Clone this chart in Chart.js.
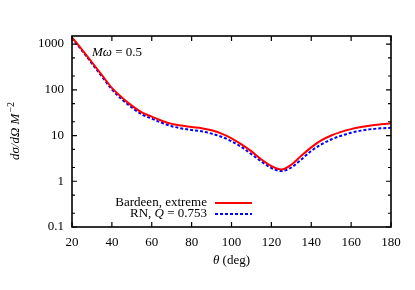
<!DOCTYPE html>
<html><head><meta charset="utf-8">
<script src="https://cdn.jsdelivr.net/npm/chart.js@4/dist/chart.umd.min.js"></script>
<style>html,body{margin:0;padding:0;background:#fff}#wrap{width:415px;height:290px}</style>
</head><body><div id="wrap"><canvas id="c" width="415" height="290"></canvas></div>
<script>
const thetas = [20,25,30,35,40,45,50,55,60,65,70,75,80,85,90,95,100,105,110,115,120,125,130,135,140,145,150,155,160,165,170,175,180];
const bardeen = [1400,760,400,210,110,68,45,32,26,21,18,16.5,15.3,14.5,13,11,8.7,6.4,4.5,3.0,2.15,1.8,2.3,3.6,5.5,7.8,10,12,13.8,15.3,16.6,17.6,18.5];
const rn = [1350,720,375,195,102,62,41,29,23.5,19,16,14.3,13.2,12.4,11,9.4,7.5,5.6,3.9,2.7,1.95,1.67,2.0,3.0,4.6,6.4,8.2,9.9,11.5,12.8,13.8,14.4,14.8];
const xTicks = [20,40,60,80,100,120,140,160,180];
const yTicks = [0.1,1,10,100,1000];
const yMinor = [0.2,0.5,2,5,20,50,200,500];
const seriesNames = ['Bardeen, extreme','RN, Q = 0.753'];

const FONT = 'Liberation Serif';

const decor = {
  id:'decor',
  afterDatasetsDraw(chart){
    const {ctx, chartArea:a, scales:{x,y}} = chart;
    ctx.save();
    ctx.strokeStyle='#000';
    ctx.lineWidth=1.2;
    ctx.beginPath();
    xTicks.forEach(v=>{const p=x.getPixelForValue(v);
      ctx.moveTo(p,a.bottom);ctx.lineTo(p,a.bottom-5);
      ctx.moveTo(p,a.top);ctx.lineTo(p,a.top+5);});
    yTicks.forEach(v=>{const p=y.getPixelForValue(v);
      ctx.moveTo(a.left,p);ctx.lineTo(a.left+5,p);
      ctx.moveTo(a.right,p);ctx.lineTo(a.right-5,p);});
    yMinor.forEach(v=>{const p=y.getPixelForValue(v);
      ctx.moveTo(a.left,p);ctx.lineTo(a.left+3,p);
      ctx.moveTo(a.right,p);ctx.lineTo(a.right-3,p);});
    ctx.stroke();
    ctx.lineWidth=1.6;
    ctx.strokeRect(a.left,a.top,a.right-a.left,a.bottom-a.top);

    // annotation
    ctx.fillStyle='#000';
    ctx.textBaseline='alphabetic';
    ctx.textAlign='left';
    let xx=a.left+20, yy=a.top+20;
    ctx.font='italic 13px '+FONT; ctx.fillText('Mω',xx,yy); xx+=ctx.measureText('Mω').width;
    ctx.font='13px '+FONT; ctx.fillText(' = 0.5',xx,yy);

    // legend
    const ds=chart.data.datasets;
    const rx=207, rows=[203,214];
    rows.forEach((ry,i)=>{
      ctx.textBaseline='middle';
      if(i===0){ctx.font='13px '+FONT;ctx.textAlign='right';ctx.fillText(seriesNames[0],rx,ry);}
      else{
        ctx.textAlign='left';
        const parts=[['RN, ',''],['Q','italic '],[' = 0.753','']];
        let w=0; parts.forEach(p=>{ctx.font=p[1]+'13px '+FONT;w+=ctx.measureText(p[0]).width;});
        let px=rx-w; parts.forEach(p=>{ctx.font=p[1]+'13px '+FONT;ctx.fillText(p[0],px,ry);px+=ctx.measureText(p[0]).width;});
      }
      ctx.beginPath();
      ctx.strokeStyle=ds[i].borderColor; ctx.lineWidth=2;
      ctx.setLineDash(ds[i].borderDash||[]);
      ctx.moveTo(215,ry);ctx.lineTo(252,ry);ctx.stroke();
      ctx.setLineDash([]);
    });

    // axis titles
    ctx.fillStyle='#000';
    ctx.textBaseline='middle';
    const tx=(a.left+a.right)/2, ty=261;
    ctx.font='italic 13px '+FONT; const w1=ctx.measureText('θ').width;
    ctx.font='13px '+FONT; const w2=ctx.measureText(' (deg)').width;
    let sx=tx-(w1+w2)/2;
    ctx.font='italic 13px '+FONT; ctx.textAlign='left'; ctx.fillText('θ',sx,ty);
    ctx.font='13px '+FONT; ctx.fillText(' (deg)',sx+w1,ty);

    ctx.translate(16,(a.top+a.bottom)/2);
    ctx.rotate(-Math.PI/2);
    ctx.font='italic 13px '+FONT;
    const t1='dσ/dΩ M'; const tw=ctx.measureText(t1).width;
    ctx.font='10px '+FONT; const sw=ctx.measureText('−2').width;
    let s0=-(tw+sw)/2;
    ctx.font='italic 13px '+FONT; ctx.fillText(t1,s0,0);
    ctx.font='10px '+FONT; ctx.fillText('−2',s0+tw+1,-5);
    ctx.restore();
  }
};

new Chart(document.getElementById('c'),{
  type:'line',
  data:{datasets:[
    {label:seriesNames[0],data:thetas.map((t,i)=>({x:t,y:bardeen[i]})),borderColor:'#ff0000',borderWidth:2,pointRadius:0,cubicInterpolationMode:'monotone',fill:false},
    {label:seriesNames[1],data:thetas.map((t,i)=>({x:t,y:rn[i]})),borderColor:'#0000ff',borderWidth:2,borderDash:[3,2],pointRadius:0,cubicInterpolationMode:'monotone',fill:false}
  ]},
  options:{
    responsive:false,animation:false,
    layout:{padding:{left:0,right:24,top:36,bottom:0}},
    plugins:{legend:{display:false},tooltip:{enabled:false}},
    scales:{
      x:{type:'linear',min:20,max:180,
        afterBuildTicks:s=>{s.ticks=xTicks.map(v=>({value:v}));},
        afterFit:s=>{s.height=63;},
        grid:{display:false,drawTicks:false},border:{display:false},
        ticks:{padding:8,color:'#000',font:{family:FONT,size:13},maxRotation:0,autoSkip:false}},
      y:{type:'logarithmic',min:0.1,max:1500,
        afterBuildTicks:s=>{s.ticks=yTicks.map(v=>({value:v}));},
        afterFit:s=>{s.width=72;},
        grid:{display:false,drawTicks:false},border:{display:false},
        ticks:{padding:8,color:'#000',font:{family:FONT,size:13},autoSkip:false,
          callback:v=>String(v)}}
    }
  },
  plugins:[decor]
});
</script></body></html>
